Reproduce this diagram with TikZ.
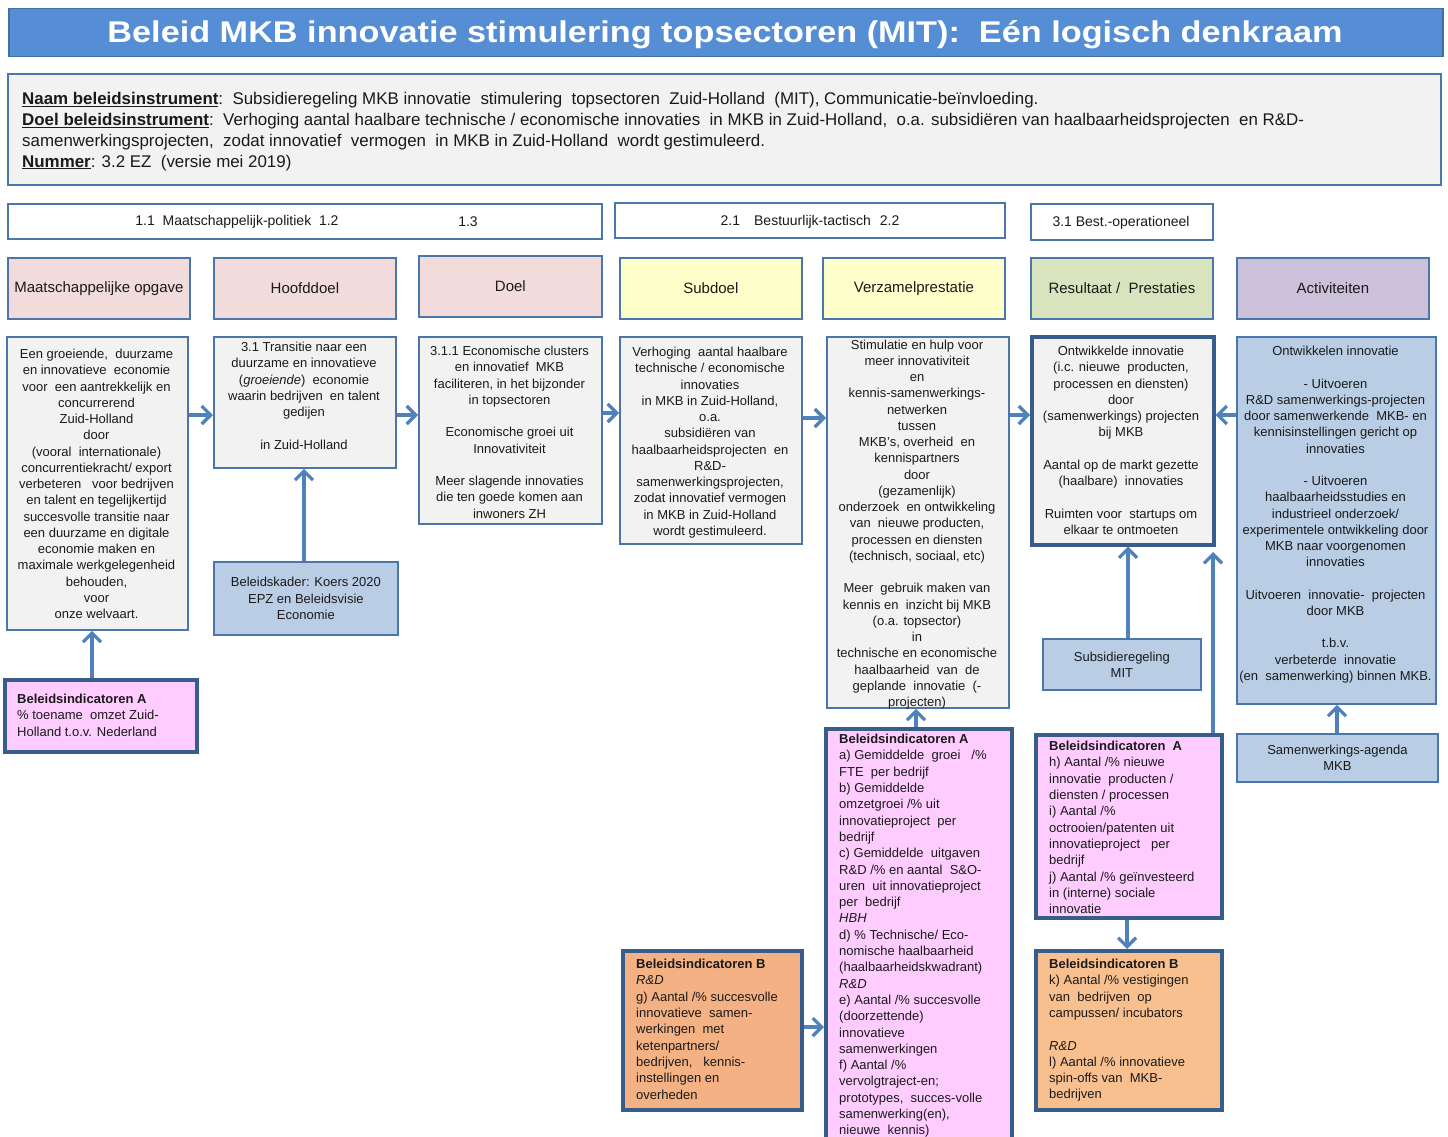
\documentclass[tikz,border=0pt]{standalone}
\usepackage{fontspec}
\setmainfont{Liberation Sans}
\usepackage{graphicx}
\usetikzlibrary{arrows.meta}
\definecolor{titlef}{HTML}{558ED5}
\definecolor{titled}{HTML}{41719C}
\definecolor{bord}{HTML}{4A76AC}
\definecolor{bordk}{HTML}{385D8A}
\definecolor{arrc}{HTML}{4F81BD}
\definecolor{greyf}{HTML}{F2F2F2}
\definecolor{bluef}{HTML}{B9CDE5}
\definecolor{pinkh}{HTML}{F2DCDB}
\definecolor{yelh}{HTML}{FFFFCC}
\definecolor{greenh}{HTML}{D7E4BD}
\definecolor{purph}{HTML}{CCC1DA}
\definecolor{pinki}{HTML}{FFCCFF}
\definecolor{orangea}{HTML}{F4B183}
\definecolor{orangeb}{HTML}{F9C08F}
\definecolor{txtc}{HTML}{1A1A1A}
\begin{document}
\begin{tikzpicture}[x=1pt,y=-1pt,
  sz/.style 2 args={minimum width=#1, minimum height=#2},
  box/.style={draw=bord, line width=1.8pt, inner sep=0pt, anchor=north west, align=center, text=txtc},
  thickbox/.style={draw=bordk, line width=3.5pt, inner sep=0pt, anchor=north west},
  ctxt/.style={anchor=north, align=center, inner sep=0pt, text=txtc, font=\fontsize{13}{16.25}\selectfont},
  ltxt/.style={anchor=north west, align=left, inner sep=0pt, text=txtc, font=\fontsize{13}{16.3}\selectfont},
  htxt/.style={font=\fontsize{15}{18}\selectfont},
  mtxt/.style={font=\fontsize{13}{16.2}\selectfont},
  lvtxt/.style={inner sep=0pt, text=txtc, font=\fontsize{14}{16}\selectfont},
  arr/.style={draw=arrc, line width=3.2pt, -{Straight Barb[length=9pt,width=18pt]}},
]
\useasboundingbox (0,0) rectangle (1448,1137);
\fill[white] (0,0) rectangle (1448,1137);

% title
\node[draw=titled, line width=1.5pt, fill=titlef, sz={1434pt}{48pt}, anchor=north west, inner sep=0pt] (title) at (8,8) {};
\node[text=white, inner sep=0pt, font=\fontsize{30}{36}\selectfont\bfseries] (titlet) at (725,35)
  {\resizebox{1235pt}{\height}{Beleid MKB innovatie stimulering topsectoren (MIT): \ Eén logisch denkraam}};

% info box
\node[box, fill=greyf, sz={1433pt}{111pt}] (info) at (7,73) {};
\node[anchor=north west, align=left, inner sep=0pt, text=txtc, font=\fontsize{16.9}{20.7}\selectfont] (infot) at (22,92.5)
{\underline{\textbf{Naam beleidsinstrument}}:\ \ Subsidieregeling MKB innovatie\ \ stimulering\ \ topsectoren\ \ Zuid-Holland\ \ (MIT), Communicatie-beïnvloeding.\\
\underline{\textbf{Doel beleidsinstrument}}:\ \ Verhoging aantal haalbare technische / economische innovaties\ \ in MKB in Zuid-Holland,\ \ o.a. subsidiëren van haalbaarheidsprojecten\ \ en R\&D-\\
samenwerkingsprojecten,\ \ zodat innovatief\ \ vermogen\ \ in MKB in Zuid-Holland\ \ wordt gestimuleerd.\\
\underline{\textbf{Nummer}}: 3.2 EZ\ \ (versie mei 2019)};

% level row
\node[box, fill=white, sz={594pt}{35pt}] (lv1) at (7,203) {};
\node[box, fill=white, sz={390pt}{35pt}] (lv2) at (614,202) {};
\node[box, fill=white, sz={182pt}{36pt}] (lv3) at (1030,203) {};
\node[lvtxt] (lv1a) at (237,221.5) {1.1\ \ Maatschappelijk-politiek\ \ 1.2};
\node[lvtxt] (lv1b) at (468,221.5) {1.3};
\node[lvtxt] (lv2t) at (810,221.5) {2.1\hspace{14pt}Bestuurlijk-tactisch\hspace{9pt}2.2};
\node[lvtxt] (lv3t) at (1121,222.5) {3.1 Best.-operationeel};

% headers
\node[box, htxt, fill=pinkh, sz={182pt}{61pt}] (h1) at (7,257) {Maatschappelijke opgave};
\node[box, htxt, fill=pinkh, sz={182pt}{61pt}] (h2) at (213,257) {Hoofddoel};
\node[box, htxt, fill=pinkh, sz={183pt}{61pt}] (h3) at (418,255) {Doel};
\node[box, htxt, fill=yelh, sz={182pt}{61pt}] (h4) at (619,257) {Subdoel};
\node[box, htxt, fill=yelh, sz={182pt}{61pt}] (h5) at (822,257) {Verzamelprestatie};
\node[box, htxt, fill=greenh, sz={182pt}{61pt}] (h6) at (1030,257) {Resultaat /\ \ Prestaties};
\node[box, htxt, fill=purph, sz={192pt}{61pt}] (h7) at (1236,257) {Activiteiten};

% content boxes
\node[box, fill=greyf, sz={181pt}{293pt}] (b1) at (6,336) {};
\node[box, fill=greyf, sz={182pt}{131pt}] (b2) at (213,336) {};
\node[box, fill=greyf, sz={183pt}{187pt}] (b3) at (418,336) {};
\node[box, fill=greyf, sz={182pt}{207pt}] (b4) at (619,336) {};
\node[box, fill=greyf, sz={182pt}{371pt}] (b5) at (826,336) {};
\node[thickbox, fill=greyf, sz={182pt}{208pt}] (b6) at (1030,335) {};
\node[box, fill=bluef, sz={199pt}{367pt}] (b7) at (1236,336) {};

\node[ctxt] (t1) at (96.5,349) {Een groeiende,\ \ duurzame\\en innovatieve\ \ economie\\voor\ \ een aantrekkelijk en\\concurrerend\\Zuid-Holland\\door\\(vooral\ \ internationale)\\concurrentiekracht/ export\\verbeteren\ \ \ voor bedrijven\\en talent en tegelijkertijd\\succesvolle transitie naar\\een duurzame en digitale\\economie maken en\\maximale werkgelegenheid\\behouden,\\voor\\onze welvaart.};
\node[ctxt] (t2) at (304,342) {3.1 Transitie naar een\\duurzame en innovatieve\\(\textit{groeiende})\ \ economie\\waarin bedrijven\ \ en talent\\gedijen\\[16.2pt]in Zuid-Holland};
\node[ctxt] (t3) at (509.5,346) {3.1.1 Economische clusters\\en innovatief\ \ MKB\\faciliteren, in het bijzonder\\in topsectoren\\[16.2pt]Economische groei uit\\Innovativiteit\\[16.2pt]Meer slagende innovaties\\die ten goede komen aan\\inwoners ZH};
\node[ctxt] (t4) at (710,347) {Verhoging\ \ aantal haalbare\\technische / economische\\innovaties\\in MKB in Zuid-Holland,\\o.a.\\subsidiëren van\\haalbaarheidsprojecten\ \ en\\R\&D-\\samenwerkingsprojecten,\\zodat innovatief vermogen\\in MKB in Zuid-Holland\\wordt gestimuleerd.};
\node[ctxt] (t5) at (917,339.5) {Stimulatie en hulp voor\\meer innovativiteit\\en\\kennis-samenwerkings-\\netwerken\\tussen\\MKB's, overheid\ \ en\\kennispartners\\door\\(gezamenlijk)\\onderzoek\ \ en ontwikkeling\\van\ \ nieuwe producten,\\processen en diensten\\(technisch, sociaal, etc)\\[16.2pt]Meer\ \ gebruik maken van\\kennis en\ \ inzicht bij MKB\\(o.a. topsector)\\in\\technische en economische\\haalbaarheid\ \ van\ \ de\\geplande\ \ innovatie\ \ (-\\projecten)};
\node[ctxt] (t6) at (1121,346) {Ontwikkelde innovatie\\(i.c. nieuwe\ \ producten,\\processen en diensten)\\door\\(samenwerkings) projecten\\bij MKB\\[16.2pt]Aantal op de markt gezette\\(haalbare)\ \ innovaties\\[16.2pt]Ruimten voor\ \ startups om\\elkaar te ontmoeten};
\node[ctxt] (t7) at (1335.5,346) {Ontwikkelen innovatie\\[16.2pt]- Uitvoeren\\R\&D samenwerkings-projecten\\door samenwerkende\ \ MKB- en\\kennisinstellingen gericht op\\innovaties\\[16.2pt]- Uitvoeren\\haalbaarheidsstudies en\\industrieel onderzoek/\\experimentele ontwikkeling door\\MKB naar voorgenomen\\innovaties\\[16.2pt]Uitvoeren\ \ innovatie-\ \ projecten\\door MKB\\[16.2pt]t.b.v.\\verbeterde\ \ innovatie\\(en\ \ samenwerking) binnen MKB.};

% blue source boxes
\node[box, mtxt, fill=bluef, sz={184pt}{73pt}] (bk) at (213,561) {Beleidskader: Koers 2020\\EPZ en Beleidsvisie\\Economie};
\node[box, mtxt, fill=bluef, sz={158pt}{51pt}] (sub) at (1042,638) {Subsidieregeling\\MIT};
\node[box, mtxt, fill=bluef, sz={201pt}{48pt}] (sam) at (1236,733) {Samenwerkings-agenda\\MKB};

% indicator boxes
\node[thickbox, fill=pinki, sz={192pt}{72pt}] (ia1) at (3,678) {};
\node[thickbox, fill=pinki, sz={186pt}{420pt}] (ia2) at (824,727) {};
\node[thickbox, fill=orangea, sz={179pt}{159pt}] (ib1) at (621,949) {};
\node[thickbox, fill=pinki, sz={186pt}{183pt}] (ia3) at (1034,733) {};
\node[thickbox, fill=orangeb, sz={186pt}{159pt}] (ib3) at (1034,949) {};

\node[ltxt] (ia1t) at (17,694) {\textbf{Beleidsindicatoren A}\\\% toename\ \ omzet Zuid-\\Holland t.o.v. Nederland};
\node[ltxt] (ia2t) at (839,734) {\textbf{Beleidsindicatoren A}\\a) Gemiddelde\ \ groei\ \ \ /\%\\FTE\ \ per bedrijf\\b) Gemiddelde\\omzetgroei /\% uit\\innovatieproject\ \ per\\bedrijf\\c) Gemiddelde\ \ uitgaven\\R\&D /\% en aantal\ \ S\&O-\\uren\ \ uit innovatieproject\\per\ \ bedrijf\\\textit{HBH}\\d) \% Technische/ Eco-\\nomische haalbaarheid\\(haalbaarheidskwadrant)\\\textit{R\&D}\\e) Aantal /\% succesvolle\\(doorzettende)\\innovatieve\\samenwerkingen\\f) Aantal /\%\\vervolgtraject-en;\\prototypes,\ \ succes-volle\\samenwerking(en),\\nieuwe\ \ kennis)};
\node[ltxt] (ib1t) at (636,959) {\textbf{Beleidsindicatoren B}\\\textit{R\&D}\\g) Aantal /\% succesvolle\\innovatieve\ \ samen-\\werkingen\ \ met\\ketenpartners/\\bedrijven,\ \ \ kennis-\\instellingen en\\overheden};
\node[ltxt] (ia3t) at (1049,741) {\textbf{Beleidsindicatoren\ \ A}\\h) Aantal /\% nieuwe\\innovatie\ \ producten /\\diensten / processen\\i) Aantal /\%\\octrooien/patenten uit\\innovatieproject\ \ \ per\\bedrijf\\j) Aantal /\% geïnvesteerd\\in (interne) sociale\\innovatie};
\node[ltxt] (ib3t) at (1049,959) {\textbf{Beleidsindicatoren B}\\k) Aantal /\% vestigingen\\van\ \ bedrijven\ \ op\\campussen/ incubators\\[16.2pt]\textit{R\&D}\\l) Aantal /\% innovatieve\\spin-offs van\ \ MKB-\\bedrijven};

% helper coordinates
\coordinate (y415) at (0,415);
\coordinate (y413) at (0,413);
\coordinate (y418) at (0,418);
\coordinate (y1027) at (0,1027);
\coordinate (x92) at (92,0);
\coordinate (x1128) at (1128,0);
\coordinate (x1213) at (1213,0);
\coordinate (x1337) at (1337,0);
\coordinate (x1127) at (1127,0);
\coordinate (x916) at (916,0);
\coordinate (x304) at (304,0);
\coordinate (tipr) at (1213,552);

% arrows
\draw[arr] (b1.east |- y415) -- (b2.west |- y415);
\draw[arr] (b2.east |- y415) -- (b3.west |- y415);
\draw[arr] (b3.east |- y413) -- (b4.west |- y413);
\draw[arr] (b4.east |- y418) -- (b5.west |- y418);
\draw[arr] (b5.east |- y415) -- (b6.west |- y415);
\draw[arr] (b7.west |- y415) -- (b6.east |- y415);
\draw[arr] (bk.north -| x304) -- (b2.south -| x304);
\draw[arr] (ia1.north -| x92) -- (b1.south -| x92);
\draw[arr] (sub.north -| x1128) -- (b6.south -| x1128);
\draw[arr] (ia3.north -| x1213) -- (tipr);
\draw[arr] (sam.north -| x1337) -- (b7.south -| x1337);
\draw[arr] (ia2.north -| x916) -- (b5.south -| x916);
\draw[arr] (ib1.east |- y1027) -- (ia2.west |- y1027);
\draw[arr] (ia3.south -| x1127) -- (ib3.north -| x1127);
\end{tikzpicture}
\end{document}
